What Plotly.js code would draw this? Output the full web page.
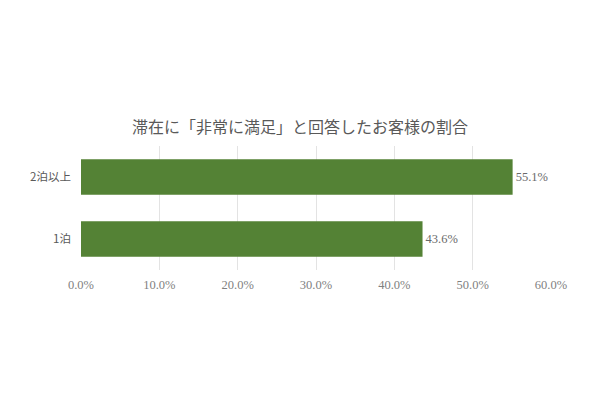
<!doctype html>
<html>
<head>
  <meta charset="utf-8">
  <title>滞在に「非常に満足」と回答したお客様の割合</title>
  <script src="https://cdn.plot.ly/plotly-3.0.1.min.js"></script>
  <style>
    body { margin: 0; background: #fff; }
  </style>
</head>
<body>
  <div id="chart" style="width:600px;height:401px;"></div>
  <script>
    // values
    var categories = ['1泊', '2泊以上'];
    var shares = [0.436, 0.551];
    var tickValues = [0, 0.1, 0.2, 0.3, 0.4, 0.5, 0.6];

    var serif = '"Liberation Serif", "Noto Sans CJK JP", serif';

    var trace = {
      type: 'bar',
      orientation: 'h',
      y: categories,
      x: shares,
      marker: { color: '#548235' },
      text: shares.map(function (v) { return (v * 100).toFixed(1) + '%'; }),
      textposition: 'outside',
      cliponaxis: false,
      textfont: { family: serif, size: 12.5, color: '#6a6a6a' },
      hoverinfo: 'skip'
    };

    var layout = {
      width: 600,
      height: 401,
      margin: { l: 81, r: 49, t: 146, b: 131 },
      paper_bgcolor: '#ffffff',
      plot_bgcolor: '#ffffff',
      showlegend: false,
      bargap: 0.43,
      title: {
        text: '滞在に「非常に満足」と回答したお客様の割合',
        font: { family: '"Noto Sans CJK JP", sans-serif', size: 16, color: '#595959' },
        x: 0.5, xanchor: 'center',
        y: 0.683, yanchor: 'middle'
      },
      xaxis: {
        range: [0, 0.6],
        tickvals: tickValues,
        tickformat: '.1%',
        showgrid: true,
        gridcolor: '#e3e3e3',
        gridwidth: 1,
        zeroline: false,
        showline: false,
        ticks: '',
        ticklabelstandoff: 5,
        tickfont: { family: serif, size: 12.5, color: '#7f7f7f' },
        fixedrange: true
      },
      yaxis: {
        categoryorder: 'array',
        categoryarray: categories,
        showgrid: false,
        zeroline: false,
        showline: false,
        ticks: '',
        ticklabelstandoff: 9,
        tickfont: { family: '"Noto Sans CJK JP", sans-serif', size: 11.5, color: '#595959' },
        fixedrange: true
      }
    };

    Plotly.newPlot('chart', [trace], layout, { displayModeBar: false, staticPlot: true });
  </script>
</body>
</html>
